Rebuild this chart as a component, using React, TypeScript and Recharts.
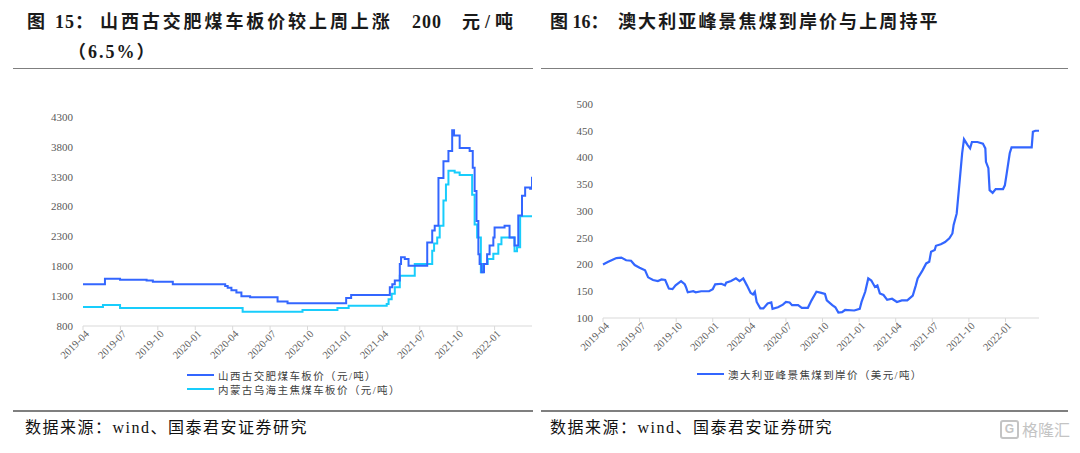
import React from "react";
import { LineChart, Line, XAxis, YAxis } from "recharts";

// x values are months since 2019-04
const quarterTicks = [0, 3, 6, 9, 12, 15, 18, 21, 24, 27, 30, 33];
const quarterLabels = [
  "2019-04", "2019-07", "2019-10", "2020-01", "2020-04", "2020-07",
  "2020-10", "2021-01", "2021-04", "2021-07", "2021-10", "2022-01",
];

const leftYTicks = [800, 1300, 1800, 2300, 2800, 3300, 3800, 4300];
const rightYTicks = [100, 150, 200, 250, 300, 350, 400, 450, 500];

// 山西古交肥煤车板价
const shanxiMonths = [
  0, 1.76, 2.97, 5.1, 5.6, 7.2, 11.4, 11.6, 11.9, 12.3, 12.7, 13.4, 15.6, 16.4,
  21.1, 21.5, 24.6, 24.8, 25.0, 25.4, 25.5, 25.8, 26.1, 27.6, 28.0, 28.2, 28.5,
  28.9, 29.3, 29.6, 29.75, 30.2, 31.0, 31.25, 31.4, 31.55, 31.7, 31.8, 31.95,
  32.15, 32.4, 32.6, 32.9, 33.0, 33.8, 34.2, 34.6, 34.9, 35.2, 35.45, 35.85, 36.0,
];
const shanxiPrices = [
  1500, 1590, 1575, 1560, 1540, 1500, 1470, 1440, 1400, 1360, 1300, 1280, 1210, 1180,
  1270, 1320, 1450, 1500, 1560, 1840, 1950, 1920, 1810, 2200, 2400, 2480, 3280,
  3560, 3730, 4080, 3990, 3780, 3730, 3450, 3060, 2560, 2000, 1840, 1700,
  1840, 2000, 2150, 2280, 2450, 2480, 2280, 2150, 2650, 2980, 3120, 3100, 3300,
];

// 内蒙古乌海主焦煤车板价
const wuhaiMonths = [
  0, 1.6, 2.97, 12.8, 17.6, 20.4, 21.3, 24.35, 24.5, 24.75, 25.0, 25.4, 26.6,
  28.0, 28.15, 28.4, 28.6, 28.9, 29.1, 29.3, 29.8, 30.2, 31.2, 31.4, 31.6, 31.9,
  32.05, 32.45, 32.9, 33.3, 33.55, 34.6, 34.8, 35.05, 36.0,
];
const wuhaiPrices = [
  1120, 1150, 1100, 1040, 1070, 1100, 1140, 1170, 1250, 1340, 1450, 1640, 1840,
  2060, 2180, 2280, 2480, 2900, 3170, 3400, 3370, 3330, 3000, 2500, 2280, 1700,
  1840, 1920, 2010, 2170, 2280, 2050, 2120, 2640, 2640,
];

// 澳大利亚峰景焦煤到岸价
const australiaMonths = [
  0, 0.43, 0.7, 1.1, 1.5, 1.9, 2.3, 2.6, 3.0, 3.45, 3.7, 4.1, 4.5, 4.8, 5.1, 5.4,
  5.7, 5.95, 6.4, 6.7, 6.8, 6.95, 7.4, 7.6, 8.05, 8.7, 9.0, 9.2, 9.7, 10.0, 10.1,
  10.5, 10.9, 11.2, 11.5, 11.8, 12.1, 12.3, 12.45, 12.6, 12.9, 13.15, 13.5, 13.8,
  13.9, 14.35, 14.75, 15.0, 15.3, 15.5, 16.0, 16.3, 16.8, 17.1, 17.5, 17.9, 18.2,
  18.35, 18.8, 19.05, 19.3, 19.6, 19.85, 20.6, 21.05, 21.2, 21.5, 21.75, 22.0,
  22.3, 22.5, 22.7, 23.0, 23.3, 23.7, 24.1, 24.5, 24.95, 25.4, 25.65, 25.8, 26.2,
  26.5, 26.75, 26.9, 27.2, 27.3, 27.7, 28.05, 28.4, 28.65, 28.75, 29.0, 29.2,
  29.35, 29.45, 29.6, 29.9, 30.1, 30.25, 30.7, 31.15, 31.35, 31.4, 31.6, 31.7,
  31.95, 32.2, 32.8, 32.95, 33.1, 33.35, 33.5, 35.15, 35.25, 35.45, 35.75,
];
const australiaPrices = [
  200, 205, 208, 212, 213, 208, 207, 199, 194, 189, 176, 171, 169, 172, 171, 155,
  154, 161, 169, 163, 158, 148, 150, 148, 150, 150, 154, 163, 164, 161, 166,
  169, 174, 169, 174, 161, 147, 144, 149, 130, 118, 118, 127, 129,
  117, 120, 125, 130, 129, 124, 124, 119, 119, 133, 149, 147, 145,
  133, 124, 120, 110, 111, 115, 114, 117, 130, 149, 174, 170,
  158, 161, 146, 143, 134, 136, 130, 133, 133, 142, 161, 174, 189,
  202, 205, 224, 227, 235, 238, 242, 249, 258, 274, 295, 345,
  383, 408, 434, 423, 417, 429, 429, 426, 417, 392, 380, 339,
  334, 341, 341, 348, 370, 408, 419, 419, 448, 450, 450,
];

const toPoints = (ms: number[], vs: number[]) => ms.map((m, i) => ({ m, v: vs[i] }));

const SERIF = "'Liberation Serif', 'Noto Sans CJK SC', serif";
const BLUE = "#3366ff";
const CYAN = "#18cdfc";
const AXIS_GREY = "#d9d9d9";

const DateTick = (props: any) => {
  const { x, y, payload } = props;
  return (
    <g transform={`translate(${x + 4},${y + 2}) rotate(-45)`}>
      <text textAnchor="end" dy="0.35em" fontSize={10.5} fill="#595959" fontFamily={SERIF}>
        {quarterLabels[quarterTicks.indexOf(payload.value)]}
      </text>
    </g>
  );
};

const yTickStyle = { fontSize: 11, fill: "#595959", fontFamily: SERIF };

function LegendRow({ color, label, top, left }: { color: string; label: string; top: number; left: number }) {
  return (
    <div style={{ position: "absolute", left, top, display: "flex", alignItems: "center", height: 14 }}>
      <div style={{ width: 27, height: 2.5, background: color, marginRight: 4 }} />
      <span style={{ fontFamily: SERIF, fontSize: 10.5, letterSpacing: 1.4, color: "#404040", whiteSpace: "nowrap" }}>
        {label}
      </span>
    </div>
  );
}

const titleStyle: React.CSSProperties = {
  position: "absolute",
  fontFamily: SERIF,
  fontWeight: 700,
  fontSize: 18,
  color: "#1a1a1a",
  whiteSpace: "nowrap",
  lineHeight: "24px",
};

const sourceStyle: React.CSSProperties = {
  position: "absolute",
  fontFamily: SERIF,
  fontSize: 16,
  letterSpacing: 1.5,
  color: "#111",
  whiteSpace: "nowrap",
};

export default function App() {
  const shanxi = toPoints(shanxiMonths, shanxiPrices);
  const wuhai = toPoints(wuhaiMonths, wuhaiPrices);
  const australia = toPoints(australiaMonths, australiaPrices);

  return (
    <div style={{ position: "absolute", left: 0, top: 0, width: 1080, height: 453, background: "#fff", overflow: "hidden" }}>
      <div style={{ ...titleStyle, left: 27, top: 10 }}>图</div>
      <div style={{ ...titleStyle, left: 55, top: 10, letterSpacing: 1 }}>15：</div>
      <div style={{ ...titleStyle, left: 100, top: 10, letterSpacing: 2.9 }}>山西古交肥煤车板价较上周上涨</div>
      <div style={{ ...titleStyle, left: 412, top: 10, letterSpacing: 1 }}>200</div>
      <div style={{ ...titleStyle, left: 462, top: 10, letterSpacing: 5 }}>元/吨</div>
      <div style={{ ...titleStyle, left: 68, top: 40, letterSpacing: 2 }}>（6.5%）</div>

      <div style={{ ...titleStyle, left: 550, top: 10 }}>图 16：</div>
      <div style={{ ...titleStyle, left: 618, top: 10, letterSpacing: 2.1 }}>澳大利亚峰景焦煤到岸价与上周持平</div>

      <div style={{ position: "absolute", left: 13, top: 68, width: 520, height: 1, background: "#7f7f7f" }} />
      <div style={{ position: "absolute", left: 541, top: 68, width: 527, height: 1, background: "#7f7f7f" }} />

      <div style={{ position: "absolute", left: 0, top: 0 }}>
        <LineChart width={540} height={400} data={shanxi} margin={{ top: 117, right: 8, left: 0, bottom: 34 }}>
          <XAxis
            dataKey="m"
            type="number"
            domain={[0, 36]}
            ticks={quarterTicks}
            tick={<DateTick />}
            tickSize={4}
            tickMargin={0}
            height={40}
            interval={0}
            axisLine={{ stroke: AXIS_GREY }}
            tickLine={{ stroke: AXIS_GREY }}
            allowDataOverflow
          />
          <YAxis
            type="number"
            domain={[800, 4300]}
            ticks={leftYTicks}
            width={83}
            axisLine={false}
            tickLine={false}
            tickMargin={4}
            tick={yTickStyle}
          />
          <Line data={wuhai} dataKey="v" type="stepAfter" stroke={CYAN} strokeWidth={2} dot={false} isAnimationActive={false} />
          <Line data={shanxi} dataKey="v" type="stepAfter" stroke={BLUE} strokeWidth={2} dot={false} isAnimationActive={false} />
        </LineChart>
      </div>

      <div style={{ position: "absolute", left: 540, top: 0 }}>
        <LineChart width={540} height={400} data={australia} margin={{ top: 104, right: 41, left: 0, bottom: 42 }}>
          <XAxis
            dataKey="m"
            type="number"
            domain={[0, 35.75]}
            ticks={quarterTicks}
            tick={<DateTick />}
            tickSize={4}
            tickMargin={0}
            height={40}
            interval={0}
            axisLine={{ stroke: AXIS_GREY }}
            tickLine={{ stroke: AXIS_GREY }}
          />
          <YAxis
            type="number"
            domain={[100, 500]}
            ticks={rightYTicks}
            width={63}
            axisLine={false}
            tickLine={false}
            tickMargin={4}
            tick={yTickStyle}
          />
          <Line dataKey="v" type="linear" stroke={BLUE} strokeWidth={2.2} dot={false} isAnimationActive={false} />
        </LineChart>
      </div>

      <LegendRow color={BLUE} label="山西古交肥煤车板价（元/吨）" left={187} top={368} />
      <LegendRow color={CYAN} label="内蒙古乌海主焦煤车板价（元/吨）" left={187} top={382} />
      <LegendRow color={BLUE} label="澳大利亚峰景焦煤到岸价（美元/吨）" left={697} top={367} />

      <div style={{ position: "absolute", left: 13, top: 410, width: 520, height: 1.5, background: "#7f7f7f" }} />
      <div style={{ position: "absolute", left: 541, top: 410, width: 527, height: 1.5, background: "#7f7f7f" }} />

      <div style={{ ...sourceStyle, left: 25, top: 414 }}>数据来源：wind、国泰君安证券研究</div>
      <div style={{ ...sourceStyle, left: 550, top: 414 }}>数据来源：wind、国泰君安证券研究</div>

      <div style={{ position: "absolute", left: 1000, top: 417, display: "flex", alignItems: "center", color: "#c4c4c4", whiteSpace: "nowrap" }}>
        <div style={{ width: 15, height: 15, border: "2px solid #c4c4c4", borderRadius: 3, marginRight: 3, fontSize: 12, lineHeight: "15px", textAlign: "center", fontFamily: "'Liberation Sans', sans-serif", fontWeight: 700 }}>G</div>
        <span style={{ fontFamily: "'Noto Sans CJK SC', sans-serif", fontSize: 16, whiteSpace: "nowrap" }}>格隆汇</span>
      </div>
    </div>
  );
}
